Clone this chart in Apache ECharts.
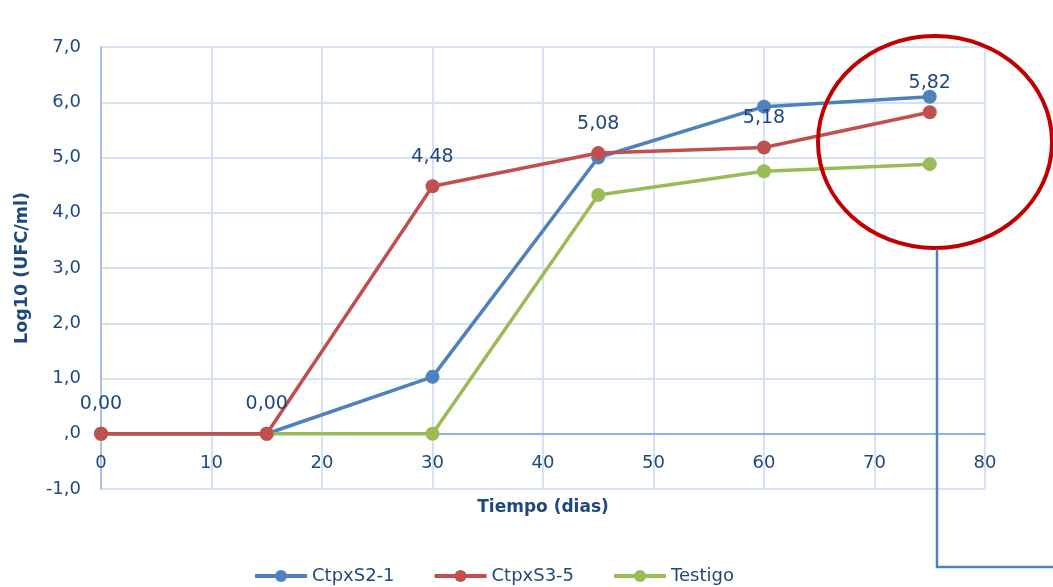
<!DOCTYPE html>
<html><head><meta charset="utf-8">
<script src="https://cdn.jsdelivr.net/npm/echarts@6/dist/echarts.min.js"></script>
<style>html,body{margin:0;padding:0;background:#fff}#c{width:1053px;height:587px}</style>
</head><body><div id="c"></div>
<script>
const days = [0, 15, 30, 45, 60, 75];
const seriesNames = ['CtpxS2-1', 'CtpxS3-5', 'Testigo'];
const ctpxS2_1 = [0, 0, 1.03, 5.0, 5.92, 6.10];
const ctpxS3_5 = [0, 0, 4.48, 5.08, 5.18, 5.82];
const testigo = [0, 0, 0, 4.32, 4.75, 4.88];
const yTickValues = [-1, 0, 1, 2, 3, 4, 5, 6, 7];
const yTickLabels = ['-1,0', ',0', '1,0', '2,0', '3,0', '4,0', '5,0', '6,0', '7,0'];
const xTitle = 'Tiempo (dias)';
const yTitle = 'Log10 (UFC/ml)';

const FONT = 'DejaVu Sans';
const TXT = '#1F497D';
const chart = echarts.init(document.getElementById('c'));
function mk(name, vals, color, labels) {
  return {
    name: name, type: 'line', data: days.map((d, i) => [d, vals[i]]),
    symbol: 'circle', symbolSize: 14,
    lineStyle: {color: color, width: 3.5}, itemStyle: {color: color},
    label: labels ? {show: true, position: 'top', distance: 13, color: TXT, fontFamily: FONT, fontSize: 19,
      formatter: p => p.value[1].toFixed(2).replace('.', ',')} : {show: false},
    z: labels ? 3 : 2
  };
}
chart.setOption({
  animation: false,
  textStyle: {fontFamily: FONT},
  grid: {left: 101, right: 68, top: 47, bottom: 98, containLabel: false, outerBoundsMode: 'none'},
  xAxis: {
    type: 'value', min: 0, max: 80, interval: 10,
    name: xTitle, nameLocation: 'middle', nameGap: 10, nameMoveOverlap: false,
    nameTextStyle: {color: TXT, fontWeight: 'bold', fontSize: 17, fontFamily: FONT},
    axisLine: {onZero: true, lineStyle: {color: '#8DB3E2', width: 2}},
    axisTick: {show: false},
    axisLabel: {color: TXT, fontSize: 18, fontFamily: FONT, margin: -35},
    splitLine: {show: true, lineStyle: {color: '#D5E2F3', width: 2}}
  },
  yAxis: {
    type: 'value', min: -1, max: 7, interval: 1,
    name: yTitle, nameLocation: 'middle', nameGap: 70, nameRotate: 90,
    nameTextStyle: {color: TXT, fontWeight: 'bold', fontSize: 17.5, fontFamily: FONT},
    axisLine: {show: true, lineStyle: {color: '#A6C4E8', width: 2}},
    axisTick: {show: false},
    axisLabel: {color: TXT, fontSize: 18, fontFamily: FONT, margin: 20,
      formatter: v => { const i = yTickValues.indexOf(Math.round(v)); return i >= 0 ? yTickLabels[i] : ''; }},
    splitLine: {show: true, lineStyle: {color: '#D5E2F3', width: 2}}
  },
  legend: {
    data: seriesNames, top: 562, left: 248, itemWidth: 52, itemHeight: 15, itemGap: 38,
    lineStyle: {width: 4},
    textStyle: {color: TXT, fontSize: 18, fontFamily: FONT}
  },
  series: [
    mk(seriesNames[0], ctpxS2_1, '#4F81BD', false),
    mk(seriesNames[1], ctpxS3_5, '#C0504D', true),
    mk(seriesNames[2], testigo, '#9BBB59', false)
  ],
  graphic: [
    {type: 'ellipse', shape: {cx: 935, cy: 142, rx: 117, ry: 106}, style: {fill: 'none', stroke: '#C00000', lineWidth: 4}, z: 10},
    {type: 'polyline', shape: {points: [[937, 249], [937, 567], [1053, 567]]}, style: {fill: 'none', stroke: '#4F81BD', lineWidth: 2.5}, z: 10}
  ]
});
</script></body></html>
